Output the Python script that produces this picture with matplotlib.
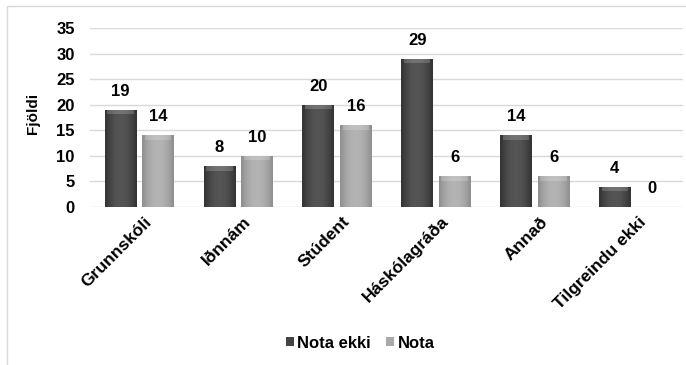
import numpy as np
import matplotlib
matplotlib.use("Agg")
import matplotlib.pyplot as plt
from matplotlib.colors import LinearSegmentedColormap
from matplotlib.patches import Rectangle, Patch

plt.rcParams["font.family"] = ["Liberation Sans", "DejaVu Sans"]
plt.rcParams["font.weight"] = "bold"

categories = ["Grunnskóli", "Iðnnám", "Stúdent", "Háskólagráða", "Annað", "Tilgreindu ekki"]
nota_ekki = [19, 8, 20, 29, 14, 4]
nota = [14, 10, 16, 6, 6, 0]
series_names = ["Nota ekki", "Nota"]
yticks = [0, 5, 10, 15, 20, 25, 30, 35]

dark_cmap = LinearSegmentedColormap.from_list(
    "dark", ["#333333", "#454545", "#525252", "#555555", "#525252", "#454545", "#333333"])
light_cmap = LinearSegmentedColormap.from_list(
    "light", ["#8e8e8e", "#a4a4a4", "#b0b0b0", "#b4b4b4", "#b0b0b0", "#a4a4a4", "#8e8e8e"])

fig = plt.figure(figsize=(6.86, 3.65), dpi=100)
ax = fig.add_axes([0.1312, 0.4329, 0.8644, 0.4904])

# thin frame round the chart area
fig.patches.append(Rectangle((7 / 686, -0.1), 1.2, 1 - 6 / 365 + 0.1,
                             transform=fig.transFigure, fill=False,
                             edgecolor="#d9d9d9", linewidth=1.0))

x = np.arange(len(categories))
w = 0.32
off = 0.19


def shaded_bars(xpos, vals, cmap, base):
    bars = ax.bar(xpos, vals, w, color=base, zorder=2, linewidth=0)
    grad = np.linspace(0, 1, 64).reshape(1, -1)
    for b, v in zip(bars, vals):
        if v <= 0:
            continue
        x0 = b.get_x()
        img = ax.imshow(grad, cmap=cmap, aspect="auto", zorder=3,
                        extent=[x0, x0 + w, 0, v], interpolation="bilinear")
        img.set_clip_path(b)
        # lighter bevel at the top of the bar
        h = min(0.9, v)
        ax.bar(x0 + w / 2, h, w * 0.84, bottom=v - h, color="white",
               alpha=0.18, zorder=4, linewidth=0)
    return bars


shaded_bars(x - off, nota_ekki, dark_cmap, "#4d4d4d")
shaded_bars(x + off, nota, light_cmap, "#ababab")

for xi, v in zip(x - off, nota_ekki):
    ax.text(xi, v + 3.6, str(v), ha="center", va="center", fontsize=12, fontweight="bold")
for xi, v in zip(x + off, nota):
    ax.text(xi, v + 3.6, str(v), ha="center", va="center", fontsize=12, fontweight="bold")

ax.set_xlim(-0.5, len(categories) - 0.5)
ax.set_ylim(0, 35)
ax.set_yticks(yticks)
ax.set_yticklabels([str(t) for t in yticks], fontsize=12, fontweight="bold")
ax.yaxis.grid(True, color="#d9d9d9", linewidth=1.0, zorder=0)
ax.set_axisbelow(True)
for s in ax.spines.values():
    s.set_visible(False)
ax.tick_params(axis="both", length=0)
ax.tick_params(axis="y", pad=11)

ax.set_xticks(x + 0.05)
ax.set_xticklabels(categories, rotation=45, ha="right", rotation_mode="anchor",
                   fontsize=12.5, fontweight="bold")
ax.tick_params(axis="x", pad=5)

ax.set_ylabel("Fjöldi", fontsize=11, fontweight="bold", labelpad=6)
ax.yaxis.set_label_coords(-0.085, 0.52)

handles = [Patch(facecolor="#444444"), Patch(facecolor="#aaaaaa")]
fig.legend(handles, series_names, loc="center", bbox_to_anchor=(0.525, 0.06),
           ncol=2, frameon=False, handlelength=0.5, handleheight=0.5,
           handletextpad=0.2, columnspacing=0.9, prop={"weight": "bold", "size": 12})

fig.savefig("out.png", dpi=100)
